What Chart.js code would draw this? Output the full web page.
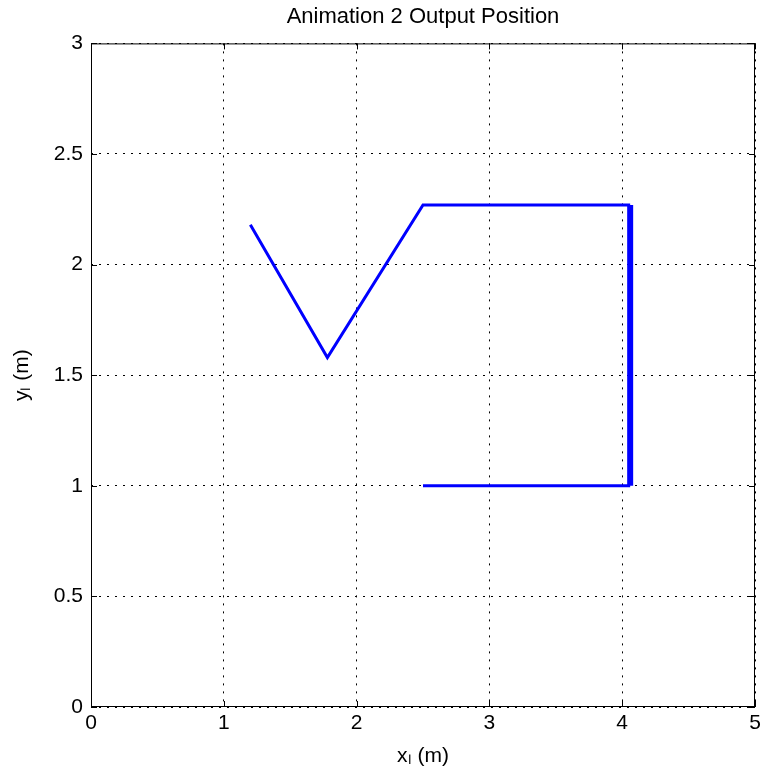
<!DOCTYPE html>
<html>
<head>
<meta charset="utf-8">
<script src="https://cdn.jsdelivr.net/npm/chart.js@4/dist/chart.umd.min.js"></script>
<style>
  html, body { margin: 0; padding: 0; background: #fff; }
  #wrap { width: 762px; height: 775px; }
</style>
</head>
<body>
<div id="wrap"><canvas id="c" width="762" height="775"></canvas></div>
<script>
// output position path (m)
const pathX = [1.2, 1.78, 2.5, 4.06, 4.06, 2.5];
const pathY = [2.18, 1.58, 2.27, 2.27, 1.0, 1.0];
const xTicks = [0, 1, 2, 3, 4, 5];
const yTicks = [0, 0.5, 1, 1.5, 2, 2.5, 3];

const points = pathX.map(function(x, i) { return {x: x, y: pathY[i]}; });

// box round the axes plus small inward tick marks, like matlab
const boxPlugin = {
  id: "box",
  afterDraw: function(chart) {
    const a = chart.chartArea;
    const c = chart.ctx;
    const sx = chart.scales.x, sy = chart.scales.y;
    c.save();
    c.strokeStyle = "#000";
    c.lineWidth = 1;
    c.setLineDash([]);
    c.strokeRect(a.left + 0.5, a.top + 0.5, a.right - a.left - 1, a.bottom - a.top - 1);
    c.beginPath();
    xTicks.forEach(function(v) {
      const px = Math.round(sx.getPixelForValue(v)) + 0.5;
      c.moveTo(px, a.bottom); c.lineTo(px, a.bottom - 6);
      c.moveTo(px, a.top); c.lineTo(px, a.top + 6);
    });
    yTicks.forEach(function(v) {
      const py = Math.round(sy.getPixelForValue(v)) + 0.5;
      c.moveTo(a.left, py); c.lineTo(a.left + 6, py);
      c.moveTo(a.right, py); c.lineTo(a.right - 6, py);
    });
    c.stroke();
    c.restore();
  }
};

Chart.defaults.font.family = "'Liberation Sans', Arial, sans-serif";
Chart.defaults.color = "#000";

const gridOpts = { color: "#000", lineWidth: 1, drawTicks: false };
const borderOpts = { display: false, dash: [2, 6] };

new Chart(document.getElementById("c"), {
  type: "scatter",
  data: {
    datasets: [{
      data: points,
      showLine: true,
      borderColor: "#0000ff",
      backgroundColor: "#0000ff",
      borderWidth: 3,
      pointRadius: 0,
      borderJoinStyle: "miter",
      segment: {
        borderWidth: function(ctx) { return ctx.p0DataIndex === 3 ? 6 : 3; }
      }
    }]
  },
  options: {
    responsive: false,
    animation: false,
    layout: { padding: { left: 0, right: 0, top: 0, bottom: 0 } },
    plugins: {
      legend: { display: false },
      tooltip: { enabled: false },
      title: {
        display: true,
        text: "Animation 2 Output Position",
        fullSize: false,
        font: { size: 22, weight: "normal" },
        padding: { top: 4, bottom: 13 }
      }
    },
    scales: {
      x: {
        type: "linear",
        min: 0, max: 5,
        afterBuildTicks: function(s) { s.ticks = xTicks.map(function(v) { return {value: v}; }); },
        ticks: { font: { size: 21 }, padding: 4, maxRotation: 0,
                 callback: function(v) { return String(v); } },
        grid: gridOpts,
        border: borderOpts,
        title: { display: true, text: "xₗ (m)", font: { size: 21 }, padding: { top: 7, bottom: 6 } },
        afterFit: function(s) { s.height = 68; s.paddingRight = 7; }
      },
      y: {
        type: "linear",
        min: 0, max: 3,
        afterBuildTicks: function(s) { s.ticks = yTicks.map(function(v) { return {value: v}; }); },
        ticks: { font: { size: 21 }, padding: 8,
                 callback: function(v) { return String(v); } },
        grid: gridOpts,
        border: borderOpts,
        title: { display: true, text: "yₗ (m)", font: { size: 21 }, padding: { top: 10, bottom: 0 } },
        afterFit: function(s) { s.width = 91; }
      }
    }
  },
  plugins: [boxPlugin]
});
</script>
</body>
</html>
